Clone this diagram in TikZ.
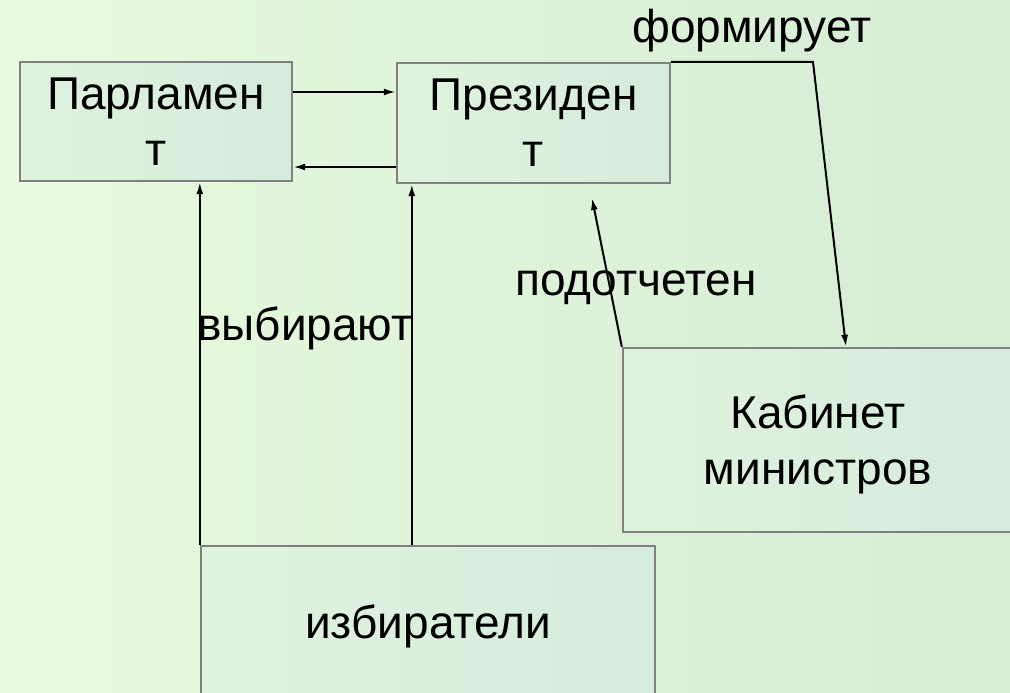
\documentclass[tikz,border=0pt]{standalone}
\usepackage{fontspec}
\setmainfont{Liberation Sans}
\usetikzlibrary{arrows.meta}
\definecolor{bg_l}{HTML}{E8FADD}
\definecolor{bg_r}{HTML}{D5ECD5}
\definecolor{box_l}{HTML}{E0F3DE}
\definecolor{box_r}{HTML}{D5EBDB}
\definecolor{box_line}{HTML}{808080}
\tikzset{
  big_font/.style = {font=\fontsize{46}{56}\selectfont},
  box_g/.style = {big_font, rectangle, align=center, inner sep=0pt, draw=box_line,
                  line width=2.4pt, left color=box_l, right color=box_r},
  lbl/.style = {big_font, inner sep=0pt, anchor=base west},
  arr/.style = {-{Latex[length=12pt,width=7pt]}, line width=2pt, black},
}

\begin{document}
\begin{tikzpicture}[x=1pt, y=-1pt]
  \shade [left color=bg_l, right color=bg_r] (0,0) rectangle (1010,693);
  \useasboundingbox (0,0) rectangle (1010,693);
  \clip (0,0) rectangle (1010,693);

  % boxes
  \node [box_g, minimum width=272pt, minimum height=119pt] (parl) at (156,121.5) {Парламен\\т};
  \node [box_g, minimum width=273pt, minimum height=120pt] (pres) at (533.5,123) {Президен\\т};
  \node [box_g, minimum width=390pt, minimum height=184pt, text depth=0pt] (kab) at (818,440) {Кабинет\\министров};
  \node [box_g, minimum width=454pt, minimum height=160pt] (izb) at (428,626) {избиратели};

  % labels
  \node [lbl] (l_form) at (632,43) {формирует};
  \node [lbl] (l_pod) at (515,295) {подотчетен};
  \node [lbl] (l_vyb) at (197,340) {выбирают};

  \coordinate (bend) at (813,62);
  \coordinate (pod_end) at (592,198);

  % connectors
  \draw [arr] ([yshift=29.5pt]parl.east) -- ([yshift=29.5pt]parl.east -| pres.west);
  \draw [arr] ([yshift=-44pt]pres.west) -- ([yshift=-44pt]pres.west -| parl.east);
  \draw [arr] (pres.north east) -- (bend) -- ([xshift=28pt]kab.north);
  \draw [arr] (kab.north west) -- (pod_end);
  \draw [arr] (izb.north west) -- (izb.north west |- parl.south);
  \draw [arr] ([xshift=16pt]pres.south west |- izb.north) -- ([xshift=16pt]pres.south west);
\end{tikzpicture}
\end{document}
